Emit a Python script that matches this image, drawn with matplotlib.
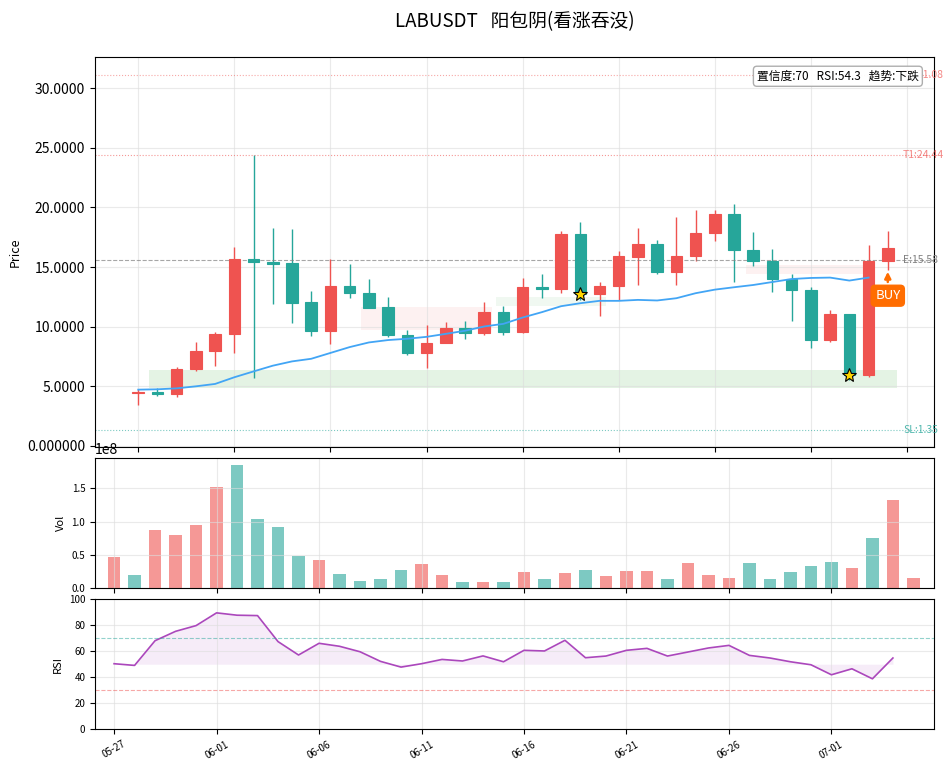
import numpy as np
import pandas as pd
import matplotlib
matplotlib.use('Agg')
import matplotlib.pyplot as plt
import matplotlib.dates as mdates
from matplotlib.patches import Rectangle
from matplotlib.ticker import FuncFormatter

plt.rcParams['font.family'] = ['Noto Sans CJK SC', 'DejaVu Sans']
plt.rcParams['axes.unicode_minus'] = False

symbol = 'LABUSDT'
pattern = '阳包阴(看涨吞没)'

dates = pd.date_range('2025-05-27', '2025-07-05', freq='D')
opens = [4.42, 4.50, 4.36, 6.46, 7.95, 9.38, 15.67, 15.42, 15.31, 12.05,
         9.68, 13.41, 12.80, 11.63, 9.29, 7.79, 8.62, 9.87, 9.46, 11.20,
         9.55, 13.33, 13.14, 17.74, 12.72, 13.38, 15.87, 16.90, 14.56, 15.95,
         17.90, 19.49, 16.40, 15.47, 13.97, 13.06, 8.88, 11.08, 5.92, 15.47]
highs = [4.75, 4.85, 6.62, 8.68, 9.52, 16.70, 24.38, 18.27, 18.19, 13.00,
         15.67, 15.25, 14.00, 12.50, 9.74, 10.15, 10.37, 10.50, 12.07, 11.74,
         14.10, 14.42, 18.02, 18.77, 13.74, 16.34, 18.27, 17.26, 19.18, 19.77,
         19.77, 20.27, 17.93, 16.50, 14.39, 13.33, 11.41, 11.10, 16.85, 17.99]
lows = [3.47, 4.17, 4.08, 6.26, 6.67, 7.76, 5.72, 11.94, 10.27, 9.18,
        8.51, 12.44, 11.55, 9.10, 7.59, 6.56, 8.60, 8.99, 9.27, 9.27,
        9.50, 12.44, 12.86, 12.25, 10.94, 12.20, 13.53, 14.45, 13.53, 15.53,
        17.21, 13.78, 15.12, 12.94, 10.52, 8.18, 8.68, 5.56, 5.75, 14.76]
closes = [4.46, 4.33, 6.46, 7.98, 9.40, 15.67, 15.39, 15.28, 12.02, 9.68,
          13.40, 12.80, 11.60, 9.29, 7.79, 8.62, 9.87, 9.46, 11.20, 9.55,
          13.30, 13.20, 17.74, 12.75, 13.41, 15.89, 16.90, 14.56, 15.97, 17.90,
          19.49, 16.40, 15.47, 13.97, 13.06, 8.88, 11.08, 5.97, 15.53, 16.60]
volumes = [0.468, 0.196, 0.875, 0.80, 0.95, 1.523, 1.855, 1.04, 0.92, 0.483,
           0.423, 0.212, 0.106, 0.136, 0.271, 0.362, 0.196, 0.09, 0.09, 0.09,
           0.241, 0.136, 0.226, 0.271, 0.18, 0.256, 0.256, 0.136, 0.377, 0.196,
           0.151, 0.377, 0.136, 0.241, 0.332, 0.392, 0.302, 0.754, 1.327, 0.151]
ma_line = [4.72, 4.75, 4.83, 5.00, 5.20, 5.76, 6.25, 6.73, 7.09, 7.31,
           7.80, 8.29, 8.68, 8.88, 8.99, 9.15, 9.40, 9.66, 10.02, 10.24,
           10.77, 11.22, 11.72, 11.97, 12.17, 12.17, 12.25, 12.20, 12.39, 12.81,
           13.11, 13.31, 13.50, 13.75, 14.00, 14.09, 14.12, 13.87, 14.12]
rsi = [50.4, 49.1, 68.1, 75.3, 79.7, 89.5, 87.7, 87.4, 67.4, 57.1,
       66.1, 63.8, 59.6, 52.2, 47.8, 50.4, 53.7, 52.5, 56.4, 51.9,
       60.7, 60.2, 68.4, 55.0, 56.3, 60.7, 62.2, 56.3, 59.4, 62.5,
       64.5, 56.8, 54.8, 51.9, 49.6, 41.9, 46.5, 38.8, 54.8]

# signal / levels
star_idx = [23, 37]
buy_idx = 39
entry, sl, t1, t2 = 15.58, 1.35, 24.44, 31.08
# zones: (x0, x1, y0, y1, kind)
zones = [(0.57, 39.5, 4.86, 6.35, 'sup'),
         (11.6, 18.4, 9.75, 11.66, 'res'),
         (18.6, 24.35, 11.77, 12.5, 'sup2'),
         (31.6, 37.8, 14.45, 15.2, 'res')]
info_text = '置信度:70   RSI:54.3   趋势:下跌'

UP = '#ef5350'
DOWN = '#26a69a'

opens = np.array(opens); closes = np.array(closes)
highs = np.array(highs); lows = np.array(lows)
n = len(opens)
idx = np.arange(n)
colors = [UP if c >= o else DOWN for o, c in zip(opens, closes)]

fig = plt.figure(figsize=(9.52, 7.7), dpi=100)
gs = fig.add_gridspec(3, 1, height_ratios=[3, 1, 1], hspace=0.05,
                      left=0.0998, right=0.981, top=0.9256, bottom=0.0529)
ax = fig.add_subplot(gs[0])
ax_v = fig.add_subplot(gs[1])
ax_r = fig.add_subplot(gs[2], sharex=ax_v)

# ---- price panel
for x0, x1, y0, y1, kind in zones:
    if kind == 'sup':
        fc, a = '#4caf50', 0.15
    elif kind == 'sup2':
        fc, a = '#4caf50', 0.08
    else:
        fc, a = '#ef5350', 0.08
    ax.add_patch(Rectangle((x0, y0), x1 - x0, y1 - y0, facecolor=fc, alpha=a,
                           edgecolor='none', zorder=1))

for i in range(n):
    ax.vlines(idx[i], lows[i], highs[i], color=colors[i], linewidth=1, zorder=2)
    lo = min(opens[i], closes[i])
    h = max(abs(closes[i] - opens[i]), 0.08)
    ax.add_patch(Rectangle((idx[i] - 0.3, lo), 0.6, h, facecolor=colors[i],
                           edgecolor=colors[i], linewidth=0.8, zorder=3))

ax.plot(idx[:len(ma_line)], ma_line, color='#42a5f5', linewidth=1.3, zorder=4)

ax.plot(idx[star_idx], closes[star_idx], marker='*', linestyle='none',
        markersize=10, markerfacecolor='#ffd700', markeredgecolor='black',
        markeredgewidth=0.8, zorder=6)

ax.axhline(t2, color=UP, linestyle=':', linewidth=0.8, alpha=0.5)
ax.axhline(t1, color=UP, linestyle=':', linewidth=0.8, alpha=0.6)
ax.axhline(entry, color='gray', linestyle='--', linewidth=0.8, alpha=0.7)
ax.axhline(sl, color=DOWN, linestyle=':', linewidth=0.8, alpha=0.6)
lx = n - 0.2
ax.text(lx, t2, f'T2:{t2:.2f}', color=UP, alpha=0.7, fontsize=7.5, va='center', zorder=5)
ax.text(lx, t1, f'T1:{t1:.2f}', color=UP, alpha=0.7, fontsize=7.5, va='center')
ax.text(lx, entry, f'E:{entry:.2f}', color='gray', fontsize=7.5, va='center')
ax.text(lx, sl, f'SL:{sl:.2f}', color=DOWN, alpha=0.8, fontsize=7.5, va='center')

ax.annotate('BUY', xy=(buy_idx, lows[buy_idx] - 0.15), xytext=(buy_idx, 12.6),
            color='white', fontsize=9.5, ha='center', va='center',
            bbox=dict(boxstyle='round,pad=0.3', facecolor='#ff6d00', edgecolor='#ff6d00'),
            arrowprops=dict(arrowstyle='-|>', color='#ff6d00', lw=1.8, mutation_scale=9,
                            shrinkA=2, shrinkB=0),
            zorder=7)

ax.text(0.982, 0.968, info_text, transform=ax.transAxes, ha='right', va='top',
        fontsize=8.5, zorder=10,
        bbox=dict(boxstyle='round,pad=0.3', facecolor='white', edgecolor='#aaaaaa', alpha=0.95))

ax.set_xlim(-2.25, 41.4)
ax.set_ylim(-0.13, 32.6)
ax.set_xticks(np.arange(0, 41, 5))
ax.tick_params(axis='x', labelbottom=False)
ax.set_yticks(np.arange(0, 31, 5))
ax.yaxis.set_major_formatter(FuncFormatter(lambda v, p: f'{v:.4f}' if v >= 1 else f'{v:.6f}'))
ax.tick_params(axis='y', labelsize=10)
ax.set_ylabel('Price', fontsize=9)
ax.grid(True, color='#dddddd', alpha=0.6, linewidth=0.8)
ax.set_title(f'{symbol}   {pattern}', fontsize=13.5, pad=22)

# ---- volume panel
dnum = mdates.date2num(dates)
vol_colors = [UP if c >= o else DOWN for o, c in zip(opens, closes)]
ax_v.bar(dnum, np.array(volumes) * 1e8, width=0.6, color=vol_colors, alpha=0.6)
ax_v.set_ylim(0, 1.95e8)
ax_v.set_ylabel('Vol', fontsize=8)
ax_v.tick_params(axis='y', labelsize=7)
ax_v.tick_params(axis='x', labelbottom=False)
ax_v.grid(True, color='#dddddd', alpha=0.6, linewidth=0.8)

# ---- RSI panel
rd = dnum[:len(rsi)]
ax_r.plot(rd, rsi, color='#ab47bc', linewidth=1.2)
ax_r.fill_between(rd, rsi, 50, color='#ab47bc', alpha=0.1, linewidth=0)
ax_r.axhline(70, color=DOWN, linestyle='--', linewidth=0.8, alpha=0.5)
ax_r.axhline(30, color=UP, linestyle='--', linewidth=0.8, alpha=0.5)
ax_r.set_ylim(0, 100)
ax_r.set_ylabel('RSI', fontsize=8)
ax_r.tick_params(axis='y', labelsize=7)
ax_r.grid(True, color='#dddddd', alpha=0.6, linewidth=0.8)
ax_r.set_xticks(dnum[::5])
ax_r.xaxis.set_major_formatter(mdates.DateFormatter('%m-%d'))
ax_r.set_xlim(dnum[0] - 0.93, dnum[0] + 40.0)
plt.setp(ax_r.get_xticklabels(), rotation=30, fontsize=7)

fig.savefig('out.png', dpi=100)
